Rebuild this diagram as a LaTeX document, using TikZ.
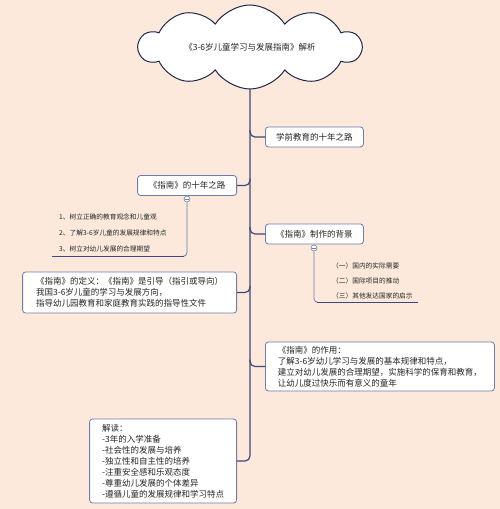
\documentclass[tikz,border=0pt]{standalone}
\usepackage{fontspec}
\setmainfont{Noto Sans CJK SC}
\usepackage{xcolor}
\usepackage{tikz}
\usetikzlibrary{shapes.symbols,positioning,calc}

\definecolor{bgpeach}{RGB}{252,233,219}
\definecolor{spineblue}{RGB}{62,72,122}
\definecolor{boxedge}{RGB}{110,126,170}
\definecolor{cloudedge}{RGB}{30,40,72}
\definecolor{inkgray}{RGB}{38,38,38}

\tikzset{
  topic/.style={draw=boxedge, line width=0.8pt, fill=white, rounded corners=3pt,
    font=\fontsize{8.5}{11}\selectfont, text=inkgray, minimum height=20pt, inner ysep=3pt},
  notebox/.style={topic, align=left},
  branch/.style={draw=spineblue, line width=1.2pt, rounded corners=5pt},
  leaf/.style={font=\fontsize{6.7}{8}\selectfont, text=inkgray, anchor=west, inner sep=0pt},
  subline/.style={draw=boxedge, line width=0.8pt, rounded corners=4pt},
  underline/.style={draw=spineblue, line width=1.6pt},
  fold/.style={circle, draw=boxedge, line width=0.6pt, fill=white, inner sep=0pt, minimum size=6pt,
    path picture={\draw[boxedge, line width=0.5pt] ([xshift=-1.6pt]path picture bounding box.center)
      -- ([xshift=1.6pt]path picture bounding box.center);}}
}

\begin{document}
\begin{tikzpicture}[x=1pt, y=-1pt]
  % background
  \fill[bgpeach] (0,0) rectangle (500,509);
  \useasboundingbox (0,0) rectangle (500,509);

  % Main topics
  \node[topic, anchor=west, minimum width=98pt] (preschool) at (265,137) {学前教育的十年之路};
  \node[topic, anchor=east, minimum width=99pt] (road) at (237,185.5) {《指南》的十年之路};
  \node[topic, anchor=west, minimum width=98pt] (backdrop) at (265,234) {《指南》制作的背景};
  \node[notebox, anchor=east, minimum width=214pt, minimum height=41pt] (define) at (237,292.5)
    {《指南》的定义：《指南》是引导（指引或导向）\\我国3-6岁儿童的学习与发展方向，\\指导幼儿园教育和家庭教育实践的指导性文件};
  \node[notebox, anchor=west, minimum width=229pt, minimum height=49pt] (effect) at (265,366.5)
    {《指南》的作用：\\了解3-6岁幼儿学习与发展的基本规律和特点，\\建立对幼儿发展的合理期望，实施科学的保育和教育，\\让幼儿度过快乐而有意义的童年};
  \node[notebox, anchor=east, minimum width=147pt, minimum height=84pt] (reading) at (237,461)
    {解读：\\-3年的入学准备\\-社会性的发展与培养\\-独立性和自主性的培养\\-注重安全感和乐观态度\\-尊重幼儿发展的个体差异\\-遵循儿童的发展规律和学习特点};

  % Spine and branches (the cloud is drawn over the top end)
  \coordinate (spinetop) at (250,60);
  \draw[branch] (spinetop) |- (reading.east);
  \draw[branch] ([yshift=7pt]preschool.west -| spinetop) |- (preschool.west);
  \draw[branch] ([yshift=7pt]road.east -| spinetop) |- (road.east);
  \draw[branch] ([yshift=7pt]backdrop.west -| spinetop) |- (backdrop.west);
  \draw[branch] ([yshift=7pt]define.east -| spinetop) |- (define.east);
  \draw[branch] ([yshift=7pt]effect.west -| spinetop) |- (effect.west);

  % Title cloud
  \node[cloud, cloud puffs=10, cloud puff arc=115, cloud ignores aspect, draw=cloudedge, line width=1pt,
    fill=white, minimum width=222pt, minimum height=84pt, inner sep=0pt,
    font=\fontsize{8.5}{11}\selectfont, text=inkgray] (title) at (250,47) {《3-6岁儿童学习与发展指南》解析};

  % Sub-items of the ten-year road
  \node[fold] (roadfold) at (187,199) {};
  \node[leaf] (road1) at (59,217) {1、树立正确的教育观念和儿童观};
  \node[leaf] (road2) at (59,233) {2、了解3-6岁儿童的发展规律和特点};
  \node[leaf] (road3) at (59,249) {3、树立对幼儿发展的合理期望};
  \coordinate (roadend) at (52,256.5);
  \draw[subline] (roadfold.south) |- (roadend);
  \draw[underline] (roadend) -- (roadend -| roadfold.west);

  % Sub-items of the background
  \node[fold] (backfold) at (314,248) {};
  \node[leaf] (back1) at (332,266) {（一）国内的实际需要};
  \node[leaf] (back2) at (332,281) {（二）国际项目的推动};
  \node[leaf] (back3) at (332,296) {（三）其他发达国家的启示};
  \coordinate (backend) at (418,302.5);
  \draw[subline] (backfold.south) |- (backend);
  \draw[underline] (backend -| backfold.east) -- (backend);
\end{tikzpicture}
\end{document}
